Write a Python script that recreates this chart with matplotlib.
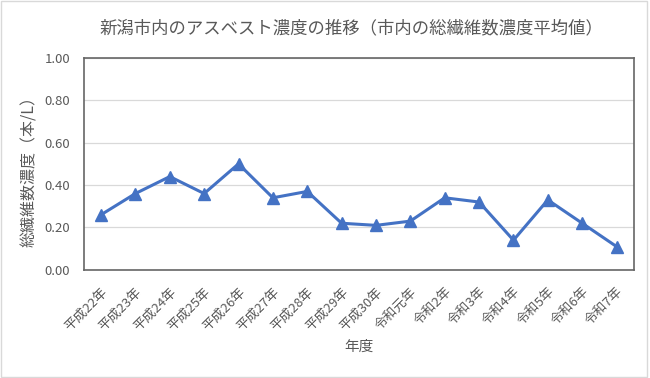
import matplotlib.pyplot as plt
from matplotlib.patches import Rectangle

plt.rcParams['font.family'] = ['Noto Sans CJK JP', 'DejaVu Sans']

# -----------------------------
# data
# -----------------------------
years = ["平成22年", "平成23年", "平成24年", "平成25年", "平成26年", "平成27年",
         "平成28年", "平成29年", "平成30年", "令和元年", "令和2年", "令和3年",
         "令和4年", "令和5年", "令和6年", "令和7年"]
fiber_conc = [0.26, 0.36, 0.44, 0.36, 0.50, 0.34, 0.37, 0.22, 0.21, 0.23,
              0.34, 0.32, 0.14, 0.33, 0.22, 0.11]
yticks = [0.0, 0.2, 0.4, 0.6, 0.8, 1.0]

title = "新潟市内のアスベスト濃度の推移（市内の総繊維数濃度平均値）"
xlabel = "年度"
ylabel = "総繊維数濃度（本/L）"

text_gray = "#595959"
blue = "#4472C4"

fig = plt.figure(figsize=(6.5, 3.78), dpi=100)
fig.patches.append(Rectangle((0.002, 0.003), 0.993, 0.994, transform=fig.transFigure,
                             fill=False, edgecolor="#d9d9d9", linewidth=1.0))

ax = fig.add_axes([0.129, 0.286, 0.846, 0.561])
x = range(len(years))
ax.plot(x, fiber_conc, color=blue, linewidth=2.2, marker="^", markersize=8,
        markerfacecolor=blue, markeredgecolor=blue)

ax.set_xlim(-0.5, len(years) - 0.5)
ax.set_ylim(0, 1.0)
ax.set_yticks(yticks)
ax.set_yticklabels([f"{v:.2f}" for v in yticks], fontsize=9.5, color=text_gray)
ax.set_xticks(list(x))
ax.set_xticklabels(years, rotation=45, ha="right", rotation_mode="anchor",
                   fontsize=9.5, color=text_gray)
ax.tick_params(axis="both", length=0)
ax.tick_params(axis="y", pad=10)
ax.tick_params(axis="x", pad=11)

ax.grid(axis="y", color="#d9d9d9", linewidth=0.9)
ax.set_axisbelow(True)
for s in ax.spines.values():
    s.set_color("#666666")
    s.set_linewidth(1.2)

fig.text(0.54, 0.925, title, ha="center", va="center", fontsize=12.5, color=text_gray)
fig.text(0.552, 0.083, xlabel, ha="center", va="center", fontsize=10.5, color=text_gray)
fig.text(0.046, 0.556, ylabel, ha="center", va="center", rotation=90,
         fontsize=11.5, color=text_gray)

fig.savefig("out.png", dpi=100)
